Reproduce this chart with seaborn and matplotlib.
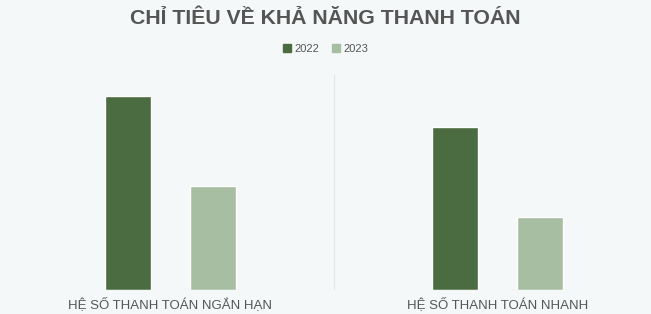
import pandas as pd
import matplotlib.pyplot as plt
import seaborn as sns
from matplotlib.patches import Patch

categories = ['HỆ SỐ THANH TOÁN NGẮN HẠN', 'HỆ SỐ THANH TOÁN NHANH']
years = ['2022', '2023']
values_2022 = [1.94, 1.63]
values_2023 = [1.04, 0.73]

df = pd.DataFrame({
    'chi_tieu': categories * 2,
    'nam': [years[0]] * 2 + [years[1]] * 2,
    'gia_tri': values_2022 + values_2023,
})

sns.set_style('white')
plt.rcParams['font.family'] = ['Liberation Sans', 'DejaVu Sans']

bg = '#f5f8f8'
mau = ['#4b6b40', '#a8bea2']
fig = plt.figure(figsize=(6.51, 3.14), dpi=100, facecolor=bg)
ax = fig.add_axes([0.01, 0.0764, 1.005, 0.685], facecolor=bg)

sns.barplot(data=df, x='chi_tieu', y='gia_tri', hue='nam',
            palette=mau, width=0.52, gap=0.46,
            saturation=1, ax=ax, legend=False)

ax.set_ylim(0, 2.15)
ax.set_xlim(-0.5, 1.5)
ax.axvline(0.5, color='#e2e6e6', lw=0.8, zorder=0)
ax.axhline(0, color='#dde2e2', lw=0.8)
ax.set_yticks([])
ax.set_xlabel('')
ax.set_ylabel('')
ax.tick_params(axis='x', length=0, labelsize=9.5, colors='#555555', pad=5)
for s in ax.spines.values():
    s.set_visible(False)

fig.text(0.5, 0.94, 'CHỈ TIÊU VỀ KHẢ NĂNG THANH TOÁN', ha='center', va='center',
         fontsize=15.3, fontweight='bold', color='#555555')

handles = [Patch(color=mau[0], label='2022'), Patch(color=mau[1], label='2023')]
fig.legend(handles=handles, loc='center', bbox_to_anchor=(0.5, 0.845), ncol=2,
           frameon=False, fontsize=8, handlelength=0.7, handleheight=0.7,
           handletextpad=0.3, columnspacing=1.2, labelcolor='#555555')

fig.savefig('out.png', dpi=100, facecolor=bg)
